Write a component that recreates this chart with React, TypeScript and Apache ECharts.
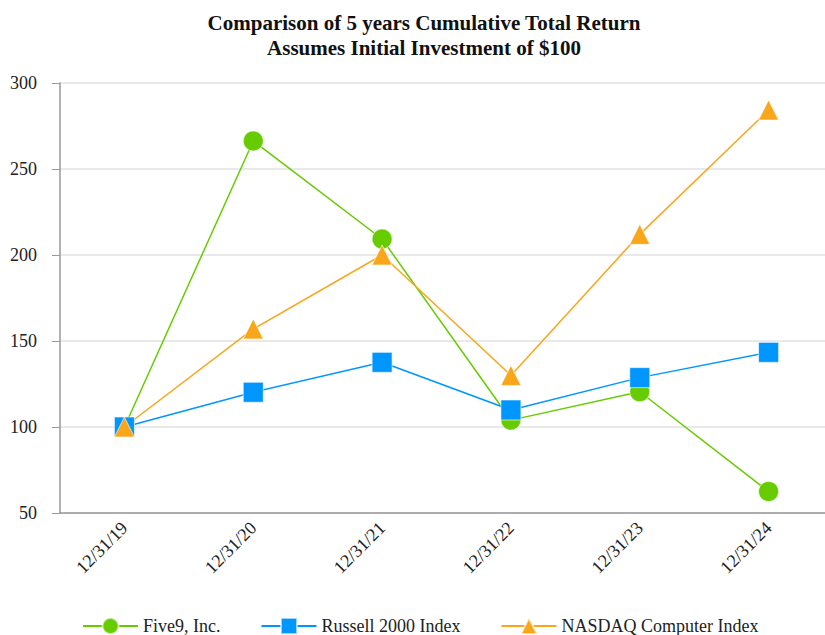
import React, { useEffect, useRef } from "react";
import * as echarts from "echarts";

const categories = ["12/31/19", "12/31/20", "12/31/21", "12/31/22", "12/31/23", "12/31/24"];
const five9 = [100, 266.3, 209.3, 104, 120.5, 62.5];
const russell = [100, 120.2, 137.6, 109.9, 128.7, 143.4];
const nasdaq = [100, 157, 200, 130, 212, 284.3];
const yTicks = { min: 50, max: 300, interval: 50 };

const FONT = "'Liberation Serif', 'Times New Roman', serif";

export default function App() {
  const ref = useRef<HTMLDivElement>(null);
  useEffect(() => {
    if (!ref.current) return;
    const chart = echarts.init(ref.current, undefined, { renderer: "svg" });
    const mk = (name: string, data: number[], color: string, symbol: string, size: number) => ({
      name,
      type: "line",
      data,
      symbol,
      symbolSize: size,
      lineStyle: { color, width: 1.5 },
      itemStyle: { color, borderColor: "rgba(255,255,255,0.6)", borderWidth: 1 },
      emphasis: { disabled: true },
    });
    chart.setOption({
      animation: false,
      backgroundColor: "#fff",
      title: {
        text: "Comparison of 5 years Cumulative Total Return\nAssumes Initial Investment of $100",
        left: 419,
        textAlign: "center",
        top: 5,
        textStyle: {
          fontFamily: FONT,
          fontSize: 21,
          fontWeight: "bold",
          color: "#111",
          lineHeight: 25,
        },
      },
      legend: {
        top: 612,
        left: 77,
        itemWidth: 55,
        itemHeight: 20,
        itemGap: 40,
        textStyle: { fontFamily: FONT, fontSize: 18, color: "#222" },
        data: ["Five9, Inc.", "Russell 2000 Index", "NASDAQ Computer Index"],
      },
      grid: { left: 60, top: 83, width: 773, bottom: 122, outerBoundsMode: "none", containLabel: false },
      xAxis: {
        type: "category",
        data: categories,
        boundaryGap: true,
        axisLine: { lineStyle: { color: "#999", width: 1.5 } },
        axisTick: { alignWithLabel: true, length: 7, lineStyle: { color: "#999" } },
        axisLabel: {
          rotate: 45,
          fontFamily: FONT,
          fontSize: 18,
          color: "#222",
          margin: 12,
        },
      },
      yAxis: {
        type: "value",
        min: yTicks.min,
        max: yTicks.max,
        interval: yTicks.interval,
        axisLine: { show: true, lineStyle: { color: "#999", width: 1.5 } },
        axisTick: { show: true, length: 8, lineStyle: { color: "#999" } },
        splitLine: { lineStyle: { color: "#e2e2e2", width: 1.5 } },
        axisLabel: { fontFamily: FONT, fontSize: 18, color: "#222", margin: 23 },
      },
      series: [
        mk("Five9, Inc.", five9, "#66cc00", "circle", 20),
        mk("Russell 2000 Index", russell, "#0096ff", "rect", 20),
        mk("NASDAQ Computer Index", nasdaq, "#f9a61b", "triangle", 20),
      ],
    });
    return () => chart.dispose();
  }, []);
  return (
    <div
      ref={ref}
      style={{ position: "absolute", left: 0, top: 0, width: 825, height: 635 }}
    />
  );
}
